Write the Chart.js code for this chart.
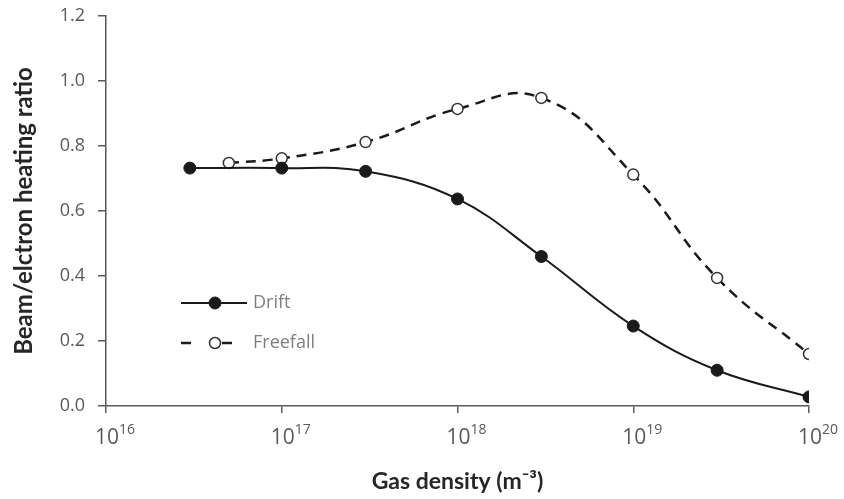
<!DOCTYPE html>
<html>
<head>
<meta charset="utf-8">
<script src="https://cdn.jsdelivr.net/npm/chart.js@4"></script>
<style>
  html, body { margin: 0; padding: 0; background: #fff; }
  #wrap { width: 844px; height: 499px; }
</style>
</head>
<body>
<div id="wrap"><canvas id="chart"></canvas></div>
<script>
// Data
const driftDensity = [3e16, 1e17, 3e17, 1e18, 3e18, 1e19, 3e19, 1e20];
const driftRatio = [0.732, 0.732, 0.722, 0.637, 0.46, 0.246, 0.11, 0.028];
const freefallDensity = [5e16, 1e17, 3e17, 1e18, 3e18, 1e19, 3e19, 1e20];
const freefallRatio = [0.748, 0.762, 0.812, 0.914, 0.948, 0.712, 0.394, 0.16];
const decadeTicks = [1e16, 1e17, 1e18, 1e19, 1e20];
const yTicks = [0, 0.2, 0.4, 0.6, 0.8, 1.0, 1.2];

const axisColor = '#595959';
const tickFont = '"Open Sans", Lato, sans-serif';
const titleFont = 'Lato, "Open Sans", sans-serif';

function toPoints(xs, ys) {
    return xs.map((x, i) => ({ x: x, y: ys[i] }));
}

// Draws 10^n labels under the log axis and the inline legend
const extrasPlugin = {
    id: 'extras',
    afterDraw(chart) {
        const ctx = chart.ctx;
        const xs = chart.scales.x;
        ctx.save();
        ctx.fillStyle = axisColor;
        ctx.textBaseline = 'alphabetic';
        decadeTicks.forEach(v => {
            const px = xs.getPixelForValue(v);
            const exp = Math.round(Math.log10(v));
            ctx.font = '21px ' + tickFont;
            ctx.textAlign = 'center';
            ctx.fillText('10', px + 1, 444);
            const w = ctx.measureText('10').width;
            ctx.font = '14px ' + tickFont;
            ctx.textAlign = 'left';
            ctx.fillText(String(exp), px + 1 + w / 2, 434);
        });

        // legend
        const items = [
            { ds: chart.data.datasets[0], y: 303 },
            { ds: chart.data.datasets[1], y: 343 }
        ];
        items.forEach(it => {
            ctx.strokeStyle = it.ds.borderColor;
            ctx.lineWidth = it.ds.borderWidth;
            ctx.setLineDash(it.ds.borderDash || []);
            ctx.beginPath();
            if (it.ds.borderDash) {
                ctx.moveTo(181, it.y); ctx.lineTo(195, it.y);
                ctx.moveTo(222, it.y); ctx.lineTo(237, it.y);
            } else {
                ctx.moveTo(181, it.y); ctx.lineTo(247, it.y);
            }
            ctx.stroke();
            ctx.setLineDash([]);
            ctx.beginPath();
            ctx.arc(215, it.y, it.ds.pointRadius, 0, Math.PI * 2);
            ctx.fillStyle = it.ds.pointBackgroundColor;
            ctx.fill();
            ctx.lineWidth = it.ds.pointBorderWidth;
            ctx.strokeStyle = it.ds.pointBorderColor;
            ctx.stroke();
            ctx.fillStyle = '#7f7f7f';
            ctx.font = '18px ' + tickFont;
            ctx.textAlign = 'left';
            ctx.textBaseline = 'middle';
            ctx.fillText(it.ds.label, 253, it.y);
        });
        ctx.restore();
    }
};

const ctx = document.getElementById('chart').getContext('2d');
new Chart(ctx, {
    type: 'line',
    data: {
        datasets: [{
            label: 'Drift',
            data: toPoints(driftDensity, driftRatio),
            borderColor: '#1a1a1a',
            borderWidth: 2,
            pointRadius: 6,
            pointBackgroundColor: '#1a1a1a',
            pointBorderColor: '#1a1a1a',
            pointBorderWidth: 1,
            tension: 0.4,
            fill: false
        }, {
            label: 'Freefall',
            data: toPoints(freefallDensity, freefallRatio),
            borderColor: '#1a1a1a',
            borderWidth: 2.5,
            borderDash: [10, 7],
            pointRadius: 5.5,
            pointBackgroundColor: '#ffffff',
            pointBorderColor: '#333333',
            pointBorderWidth: 1.5,
            tension: 0.45,
            fill: false
        }]
    },
    options: {
        responsive: true,
        maintainAspectRatio: false,
        animation: false,
        layout: { padding: { top: 16, right: 35, left: 10, bottom: 0 } },
        plugins: {
            legend: { display: false },
            tooltip: { enabled: false }
        },
        scales: {
            x: {
                type: 'logarithmic',
                min: 1e16,
                max: 1e20,
                afterBuildTicks: scale => { scale.ticks = decadeTicks.map(v => ({ value: v })); },
                afterFit: scale => { scale.height = 93; scale.paddingLeft = 0; scale.paddingRight = 0; },
                ticks: { display: false },
                grid: { display: true, drawOnChartArea: false, drawTicks: true, tickLength: 7, color: axisColor, lineWidth: 1.5 },
                border: { color: axisColor, width: 1.5 },
                title: {
                    display: true,
                    text: 'Gas density (m⁻³)',
                    color: '#262626',
                    font: { family: titleFont, size: 23, weight: 'bold' },
                    padding: { top: 0, bottom: 4 }
                }
            },
            y: {
                min: 0,
                max: 1.2,
                afterBuildTicks: scale => { scale.ticks = yTicks.map(v => ({ value: v })); },
                afterFit: scale => { scale.width = 96; scale.paddingTop = 0; scale.paddingBottom = 0; },
                ticks: {
                    color: axisColor,
                    font: { family: tickFont, size: 18 },
                    padding: 13,
                    callback: v => v.toFixed(1)
                },
                grid: { display: true, drawOnChartArea: false, drawTicks: true, tickLength: 8, color: axisColor, lineWidth: 1.5 },
                border: { color: axisColor, width: 1.5 },
                title: {
                    display: true,
                    text: 'Beam/elctron heating ratio',
                    color: '#262626',
                    font: { family: titleFont, size: 24, weight: 'bold' },
                    padding: { top: 0, bottom: 0 }
                }
            }
        }
    },
    plugins: [extrasPlugin]
});
</script>
</body>
</html>
